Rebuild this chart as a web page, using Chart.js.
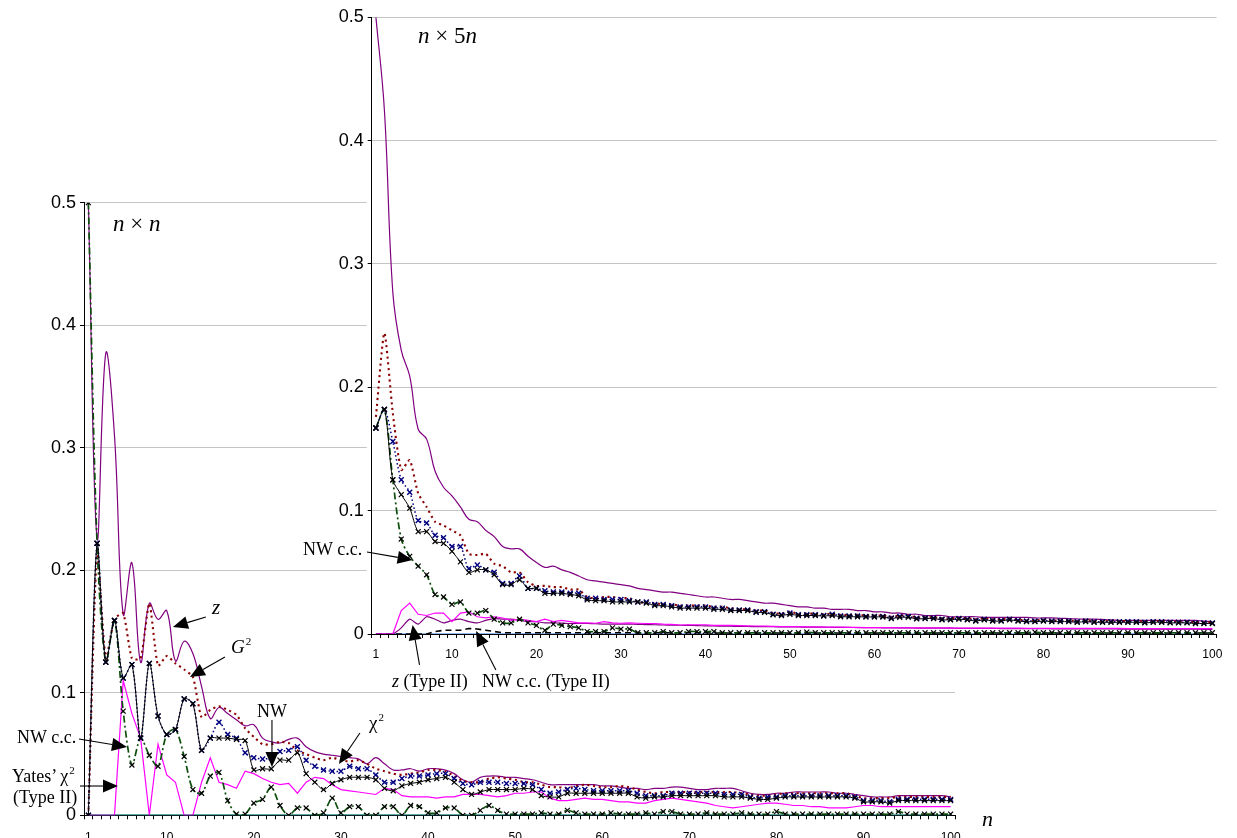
<!DOCTYPE html>
<html><head><meta charset="utf-8">
<script src="https://cdn.jsdelivr.net/npm/chart.js@4.4.1/dist/chart.umd.min.js"></script>
<style>
html,body{margin:0;padding:0;background:#fff;}
body{width:1237px;height:838px;overflow:hidden;position:relative;}
canvas{position:absolute;top:0;}
.t{position:absolute;font-family:"Liberation Serif","Times New Roman",serif;font-size:18px;line-height:1;white-space:nowrap;color:#000;}
.s{font-size:11px;position:relative;top:-8px;margin-left:1px;}
</style></head><body>
<canvas id="cl" width="1237" height="860" style="left:0"></canvas>
<canvas id="cr" width="922" height="700" style="left:300px"></canvas>

<div class="t" style="left:113px;top:212px;font-size:23px"><i>n</i> × <i>n</i></div>
<div class="t" style="left:418px;top:24px;font-size:23px"><i>n</i> × 5<i>n</i></div>
<div class="t" style="left:212px;top:597px;font-size:21px"><i>z</i></div>
<div class="t" style="left:231px;top:637px;font-size:19px"><i>G</i><span class="s">2</span></div>
<div class="t" style="left:257px;top:702px">NW</div>
<div class="t" style="left:369px;top:713px;font-size:19px">χ<span class="s">2</span></div>
<div class="t" style="left:17px;top:728px">NW c.c.</div>
<div class="t" style="left:12px;top:767px">Yates’ χ<span class="s">2</span></div>
<div class="t" style="left:13px;top:788px">(Type II)</div>
<div class="t" style="left:303px;top:540px">NW c.c.</div>
<div class="t" style="left:392px;top:672px"><i>z</i> (Type II)</div>
<div class="t" style="left:482px;top:672px">NW c.c. (Type II)</div>
<div class="t" style="left:982px;top:808px;font-size:22px"><i>n</i></div>

<script>
// ---------- categories / ticks ----------
const categories = Array.from({length:100}, (_, i) => String(i + 1));
const shownXLabels = ['1','10','20','30','40','50','60','70','80','90','100'];
const yMin = 0, yMax = 0.5, yStep = 0.1;

// ---------- left panel (n x n) ----------
const zL = [0.500,0.226,0.377,0.310,0.164,0.206,0.125,0.173,0.160,0.167,
0.126,0.142,0.132,0.105,0.079,0.088,0.083,0.078,0.073,0.074,
0.063,0.060,0.059,0.062,0.063,0.056,0.052,0.050,0.049,0.048,
0.047,0.046,0.042,0.047,0.042,0.037,0.037,0.038,0.036,0.038,
0.038,0.037,0.034,0.029,0.027,0.031,0.032,0.032,0.031,0.031,
0.030,0.029,0.027,0.025,0.025,0.025,0.025,0.025,0.025,0.024,
0.024,0.023,0.022,0.022,0.021,0.022,0.022,0.023,0.023,0.022,
0.021,0.021,0.022,0.022,0.022,0.020,0.018,0.017,0.017,0.018,
0.018,0.019,0.019,0.019,0.019,0.019,0.018,0.018,0.017,0.016,
0.015,0.015,0.015,0.016,0.016,0.016,0.016,0.016,0.016,0.015];

const g2L = [0,0.215,0.128,0.160,0.165,0.128,0.128,0.173,0.122,0.130,
0.124,0.119,0.113,0.080,0.086,0.089,0.086,0.082,0.071,0.064,
0.058,0.058,0.060,0.059,0.053,0.050,0.047,0.045,0.047,0.045,
0.044,0.045,0.042,0.038,0.036,0.034,0.033,0.034,0.035,0.037,
0.037,0.036,0.032,0.028,0.027,0.027,0.030,0.031,0.030,0.029,
0.027,0.027,0.025,0.023,0.023,0.022,0.024,0.025,0.024,0.023,
0.023,0.024,0.023,0.021,0.019,0.018,0.019,0.019,0.019,0.019,
0.019,0.019,0.019,0.019,0.019,0.018,0.017,0.016,0.016,0.017,
0.018,0.018,0.018,0.018,0.018,0.018,0.018,0.018,0.016,0.014,
0.014,0.014,0.014,0.015,0.015,0.015,0.015,0.015,0.015,0.015];

const chiL = [0,0.222,0.125,0.159,0.112,0.123,0.063,0.124,0.081,0.066,
0.070,0.095,0.091,0.053,0.063,0.076,0.066,0.063,0.051,0.047,
0.046,0.047,0.052,0.053,0.056,0.045,0.040,0.037,0.036,0.036,
0.040,0.038,0.038,0.033,0.027,0.027,0.030,0.032,0.032,0.033,
0.034,0.034,0.030,0.026,0.025,0.027,0.027,0.027,0.026,0.026,
0.026,0.025,0.021,0.018,0.019,0.021,0.022,0.021,0.020,0.020,
0.020,0.020,0.020,0.018,0.016,0.016,0.016,0.018,0.018,0.018,
0.018,0.018,0.018,0.017,0.017,0.017,0.015,0.014,0.015,0.015,
0.016,0.016,0.016,0.016,0.016,0.016,0.016,0.016,0.015,0.012,
0.012,0.012,0.011,0.013,0.013,0.013,0.013,0.013,0.013,0.013];

const nwL = [0,0.222,0.125,0.159,0.112,0.123,0.063,0.124,0.081,0.066,
0.070,0.095,0.091,0.053,0.063,0.063,0.063,0.062,0.061,0.037,
0.038,0.038,0.045,0.045,0.051,0.034,0.027,0.021,0.026,0.029,
0.031,0.031,0.031,0.029,0.022,0.020,0.024,0.026,0.027,0.029,
0.030,0.031,0.027,0.021,0.017,0.019,0.021,0.021,0.021,0.021,
0.022,0.021,0.016,0.015,0.015,0.018,0.018,0.018,0.018,0.018,
0.018,0.018,0.018,0.015,0.014,0.015,0.015,0.016,0.016,0.016,
0.016,0.016,0.016,0.015,0.015,0.015,0.014,0.013,0.013,0.014,
0.015,0.015,0.015,0.015,0.015,0.015,0.015,0.015,0.014,0.011,
0.011,0.011,0.010,0.012,0.012,0.012,0.012,0.012,0.012,0.012];

const nwccL = [0.500,0.222,0.125,0.159,0.085,0.041,0.063,0.049,0.040,0.066,
0.070,0.048,0.021,0.018,0.032,0.035,0.012,0.001,0.001,0.010,
0.013,0.023,0.008,0.000,0.006,0.006,0.000,0.002,0.014,0.002,
0.007,0.007,0.000,0.000,0.007,0.007,0.000,0.008,0.007,0.002,
0.002,0.006,0.006,0.000,0.000,0.004,0.008,0.004,0.001,0.001,
0.001,0.001,0.002,0.001,0.001,0.004,0.002,0.001,0.001,0.001,
0.002,0.001,0.001,0.001,0.002,0.001,0.003,0.003,0.001,0.001,
0.001,0.002,0.001,0.001,0.001,0.002,0.001,0.001,0.001,0.003,
0.001,0.001,0.001,0.001,0.001,0.001,0.001,0.001,0.001,0.001,
0.001,0.001,0.001,0.003,0.001,0.001,0.001,0.001,0.001,0.001];

const yatesL = [0,0,0,0,0.110,0.083,0.063,0,0.058,0.033,
0.027,0,0,0.027,0.047,0.027,0.025,0.022,0.036,0.034,
0.030,0.027,0.025,0.026,0.018,0.027,0.031,0.030,0.025,0.021,
0.020,0.019,0.018,0.017,0.022,0.021,0.016,0.015,0.015,0.015,
0.014,0.015,0.015,0.017,0.017,0.017,0.016,0.015,0.016,0.018,
0.018,0.019,0.019,0.014,0.012,0.012,0.013,0.014,0.013,0.013,
0.012,0.011,0.011,0.010,0.010,0.012,0.013,0.014,0.013,0.012,
0.011,0.010,0.008,0.007,0.006,0.007,0.008,0.009,0.010,0.010,
0.009,0.008,0.008,0.007,0.007,0.006,0.006,0.006,0.007,0.008,
0.008,0.007,0.007,0.007,0.007,0.007,0.007,0.007,0.007,0.007];

const yatesIIL = [0,0,0,0,0,0,0,0,0,0, 0,0,0,0,0,0,0,0,0,0, 0,0,0,0,0,0,0,0,0,0, 0,0,0,0,0,0,0,0,0,0, 0,0,0,0,0,0,0,0,0,0,
0,0,0,0,0,0,0,0,0,0, 0,0,0,0,0,0,0,0,0,0, 0,0,0,0,0,0,0,0,0,0, 0,0,0,0,0,0,0,0,0,0, 0,0,0,0,0,0,0,0,0,0];

// ---------- right panel (n x 5n) ----------
const zR = [0.500,0.425,0.277,0.230,0.209,0.166,0.158,0.132,0.119,0.112,
0.103,0.093,0.091,0.084,0.079,0.071,0.069,0.069,0.063,0.058,
0.054,0.055,0.052,0.050,0.047,0.044,0.043,0.042,0.041,0.040,
0.039,0.037,0.036,0.035,0.034,0.034,0.033,0.032,0.031,0.030,
0.030,0.029,0.028,0.028,0.027,0.026,0.025,0.025,0.024,0.023,
0.022,0.022,0.021,0.021,0.020,0.020,0.020,0.019,0.019,0.018,
0.018,0.017,0.017,0.016,0.016,0.015,0.015,0.015,0.014,0.014,
0.014,0.014,0.0135,0.0135,0.0135,0.0135,0.0135,0.0135,0.013,0.013,
0.013,0.0127,0.0125,0.0122,0.012,0.012,0.0118,0.0115,0.011,0.011,
0.011,0.011,0.011,0.011,0.011,0.011,0.011,0.011,0.0105,0.010];

const g2R = [0.176,0.244,0.179,0.133,0.141,0.114,0.103,0.091,0.088,0.084,
0.080,0.065,0.064,0.065,0.057,0.055,0.050,0.050,0.042,0.039,
0.039,0.038,0.038,0.036,0.036,0.030,0.029,0.030,0.030,0.029,
0.029,0.026,0.025,0.025,0.024,0.024,0.023,0.023,0.023,0.023,
0.022,0.022,0.021,0.020,0.020,0.019,0.019,0.017,0.0165,0.018,
0.0165,0.0165,0.0165,0.016,0.0165,0.0155,0.0155,0.0155,0.015,0.015,
0.015,0.014,0.015,0.015,0.0135,0.0135,0.0135,0.0127,0.0127,0.013,
0.0127,0.012,0.0127,0.012,0.012,0.0125,0.0118,0.011,0.011,0.0115,
0.011,0.011,0.011,0.0105,0.011,0.0105,0.0105,0.0105,0.0105,0.0105,
0.0105,0.010,0.0105,0.0105,0.010,0.010,0.010,0.0095,0.0095,0.0095];

const chiR = [0.167,0.182,0.156,0.125,0.115,0.092,0.090,0.080,0.078,0.071,
0.071,0.053,0.056,0.052,0.050,0.041,0.041,0.047,0.037,0.037,
0.035,0.034,0.034,0.033,0.033,0.029,0.029,0.028,0.028,0.028,
0.027,0.026,0.026,0.024,0.024,0.023,0.022,0.022,0.022,0.022,
0.021,0.021,0.0195,0.0195,0.0195,0.018,0.018,0.016,0.0157,0.017,
0.0157,0.0157,0.0157,0.015,0.016,0.0147,0.0147,0.0147,0.0143,0.0143,
0.0143,0.013,0.0143,0.0143,0.0127,0.013,0.013,0.012,0.012,0.0125,
0.012,0.011,0.012,0.011,0.011,0.012,0.011,0.0105,0.0105,0.011,
0.0105,0.0105,0.0105,0.010,0.0105,0.010,0.010,0.010,0.010,0.010,
0.010,0.0095,0.010,0.010,0.0095,0.0095,0.0095,0.009,0.009,0.009];

const nwR = [0.167,0.182,0.125,0.113,0.102,0.083,0.083,0.075,0.0735,0.067,
0.0585,0.050,0.052,0.052,0.048,0.040,0.040,0.044,0.037,0.037,
0.033,0.033,0.033,0.032,0.031,0.0276,0.027,0.027,0.026,0.026,
0.026,0.026,0.025,0.023,0.023,0.022,0.021,0.021,0.021,0.021,
0.020,0.020,0.019,0.019,0.019,0.0175,0.0175,0.0155,0.015,0.016,
0.015,0.015,0.015,0.0145,0.015,0.014,0.014,0.014,0.0138,0.0138,
0.0138,0.0125,0.0135,0.0135,0.0122,0.0125,0.0125,0.0115,0.0115,0.012,
0.0115,0.0105,0.0115,0.0105,0.0105,0.0115,0.0105,0.010,0.010,0.0105,
0.010,0.010,0.010,0.0095,0.010,0.0095,0.0095,0.0095,0.0095,0.0095,
0.0095,0.009,0.0095,0.0095,0.009,0.009,0.009,0.0085,0.0085,0.0085];

const nwccR = [0.167,0.182,0.125,0.077,0.063,0.055,0.048,0.032,0.030,0.024,
0.026,0.017,0.017,0.019,0.012,0.009,0.009,0.012,0.009,0.007,
0.003,0.008,0.007,0.006,0.005,0.002,0.002,0.002,0.005,0.004,
0.004,0.001,0.001,0.001,0.002,0.001,0.001,0.002,0.002,0.002,
0.002,0.001,0.001,0.001,0.001,0.001,0.001,0.001,0.001,0.001,
0.001,0.0015,0.001,0.001,0.001,0.001,0.001,0.001,0.001,0.001,
0.001,0.001,0.001,0.001,0.001,0.001,0.001,0.001,0.001,0.001,
0.001,0.001,0.001,0.001,0.001,0.001,0.001,0.001,0.0015,0.001,
0.001,0.001,0.001,0.001,0.001,0.001,0.001,0.001,0.001,0.001,
0.001,0.001,0.001,0.001,0.001,0.001,0.001,0.001,0.001,0.001];

const yatesR = [0,0,0,0.019,0.025,0.016,0.015,0.017,0.017,0.010,
0.017,0.018,0.014,0.013,0.014,0.013,0.011,0.012,0.011,0.010,
0.012,0.010,0.011,0.010,0.009,0.009,0.0087,0.010,0.009,0.0087,
0.009,0.0087,0.0085,0.0085,0.008,0.0078,0.0073,0.0075,0.0075,0.0075,
0.007,0.007,0.007,0.0068,0.0066,0.0065,0.0064,0.0062,0.006,0.006,
0.006,0.0058,0.0057,0.0056,0.0055,0.0055,0.0054,0.0053,0.0052,0.0052,
0.0052,0.0051,0.005,0.005,0.005,0.005,0.0049,0.0049,0.0049,0.0048,
0.0048,0.0048,0.0048,0.0047,0.0047,0.0047,0.0047,0.0046,0.0046,0.0046,
0.0046,0.0046,0.0045,0.0045,0.0045,0.0045,0.0045,0.0045,0.0045,0.0044,
0.0044,0.0044,0.0044,0.0044,0.0044,0.0044,0.0043,0.0043,0.0043,0.0043];

const zIIR = [0,0,0,0.005,0.012,0.008,0.014,0.012,0.009,0.011,
0.012,0.010,0.009,0.011,0.0125,0.012,0.012,0.011,0.010,0.010,
0.009,0.009,0.0088,0.0085,0.0085,0.0085,0.0083,0.008,0.008,0.008,
0.008,0.0078,0.0076,0.0075,0.0073,0.0072,0.0071,0.007,0.0068,0.0066,
0.0065,0.0064,0.0063,0.0062,0.0061,0.006,0.006,0.0059,0.0058,0.0058,
0.0057,0.0056,0.0055,0.0055,0.0054,0.0053,0.0053,0.0052,0.0051,0.0051,
0.005,0.005,0.0049,0.0049,0.0048,0.0048,0.0047,0.0047,0.0047,0.0046,
0.0046,0.0045,0.0045,0.0045,0.0044,0.0044,0.0044,0.0043,0.0043,0.0043,
0.0042,0.0042,0.0042,0.0042,0.0041,0.0041,0.0041,0.0041,0.004,0.004,
0.004,0.004,0.004,0.0039,0.0039,0.0039,0.0039,0.0039,0.0038,0.0038];

const nwccIIR = [0,0,0,0,0,0,0,0.002,0.003,0.003,
0.003,0.0045,0.004,0.003,0.002,0.001,0.001,0.001,0.001,0.001,
0.001,0.001,0.001,0.001,0.001,0.001,0.001,0.001,0.001,0.001,
0.001,0.001,0.001,0.001,0.001,0.001,0.001,0.001,0.001,0.001,
0.0008,0.0008,0.0008,0.0008,0.0008,0.0008,0.0008,0.0008,0.0008,0.0008,
0.0008,0.0008,0.0008,0.0008,0.0008,0.0008,0.0008,0.0008,0.0008,0.0008,
0.0008,0.0008,0.0008,0.0008,0.0008,0.0008,0.0008,0.0008,0.0008,0.0008,
0.0008,0.0008,0.0008,0.0008,0.0008,0.0008,0.0008,0.0008,0.0008,0.0008,
0.0008,0.0008,0.0008,0.0008,0.0008,0.0008,0.0008,0.0008,0.0008,0.0008,
0.0008,0.0008,0.0008,0.0008,0.0008,0.0008,0.0008,0.0008,0.0008,0.0008];

const yatesIIR = [0,0,0,0,0,0,0,0,0,0, 0,0,0,0,0,0,0,0,0,0, 0,0,0,0,0,0,0,0,0,0, 0,0,0,0,0,0,0,0,0,0, 0,0,0,0,0,0,0,0,0,0,
0,0,0,0,0,0,0,0,0,0, 0,0,0,0,0,0,0,0,0,0, 0,0,0,0,0,0,0,0,0,0, 0,0,0,0,0,0,0,0,0,0, 0,0,0,0,0,0,0,0,0,0];

// ---------- arrow annotations (category index, value) ----------
const arrowsLeft = [
  {from:[13.49,0.1619], to:[9.71,0.1537]},
  {from:[15.68,0.1292], to:[11.66,0.1129]},
  {from:[21.08,0.0778], to:[21.08,0.0394]},
  {from:[31.18,0.0672], to:[28.77,0.0419]},
  {from:[-1.08,0.0623], to:[4.43,0.0558]},
  {from:[-0.96,0.0239], to:[3.40,0.0239]}
];
const arrowsRight = [
  {from:[-1.06,0.0665], to:[4.34,0.0600]},
  {from:[5.16,-0.0251], to:[4.34,0.0073]},
  {from:[14.2,-0.0292], to:[11.85,0.0024]}
];

// ---------- styling ----------
Chart.defaults.font.family = '"Liberation Sans", Arial, sans-serif';
Chart.defaults.color = '#000';

const ST = {
  nw:   {borderColor:'#000000', borderWidth:1, tension:0.3, pointStyle:'crossRot', pointRadius:3.5, pointBorderColor:'#000', pointBorderWidth:1.2},
  chi:  {borderColor:'#000080', borderWidth:1.5, borderDash:[1.5,2.5], tension:0.3, pointStyle:'crossRot', pointRadius:3.5, pointBorderColor:'#000080', pointBorderWidth:1.4},
  nwcc: {borderColor:'#0b4d0b', borderWidth:1.7, borderDash:[7,3,2,3], tension:0.3, pointStyle:'crossRot', pointRadius:3.5, pointBorderColor:'#000', pointBorderWidth:1.2},
  g2:   {borderColor:'#8b0000', borderWidth:2.1, borderDash:[2.1,3.6], tension:0.2, pointRadius:0},
  z:    {borderColor:'#800080', borderWidth:1.2, tension:0.4, pointRadius:0},
  yates:{borderColor:'#ff00ff', borderWidth:1.2, tension:0, pointRadius:0},
  zII:  {borderColor:'#800080', borderWidth:1.2, tension:0.2, pointRadius:0},
  nwccII:{borderColor:'#000000', borderWidth:1.6, borderDash:[6,4], tension:0, pointRadius:0},
  zeroL:{borderColor:'#2a8a8a', borderWidth:2, tension:0, pointRadius:0},
  zeroR:{borderColor:'#8fb6f0', borderWidth:2.2, tension:0, pointRadius:0}
};
function ds(label, data, style){ return Object.assign({label, data, fill:false}, style); }

const arrowPlugin = {
  id:'arrows',
  afterDraw(chart, args, opts){
    const {ctx} = chart, x = chart.scales.x, y = chart.scales.y;
    ctx.save();
    ctx.strokeStyle = '#000'; ctx.fillStyle = '#000'; ctx.lineWidth = 1.1; ctx.setLineDash([]);
    for (const a of (opts.list || [])){
      const x1 = x.getPixelForValue(a.from[0]), y1 = y.getPixelForValue(a.from[1]);
      const x2 = x.getPixelForValue(a.to[0]), y2 = y.getPixelForValue(a.to[1]);
      const ang = Math.atan2(y2 - y1, x2 - x1), L = 15, W = 6.5;
      const bx = x2 - L*Math.cos(ang), by = y2 - L*Math.sin(ang);
      ctx.beginPath(); ctx.moveTo(x1, y1); ctx.lineTo(bx, by); ctx.stroke();
      ctx.beginPath(); ctx.moveTo(x2, y2);
      ctx.lineTo(bx + W*Math.sin(ang), by - W*Math.cos(ang));
      ctx.lineTo(bx - W*Math.sin(ang), by + W*Math.cos(ang));
      ctx.closePath(); ctx.fill();
    }
    ctx.restore();
  }
};
const whiteArea = {
  id:'whiteArea',
  beforeDraw(chart, args, opts){
    if (!opts.on) return;
    const {ctx, chartArea:a} = chart;
    ctx.save(); ctx.fillStyle = '#fff';
    ctx.fillRect(a.left - 5, a.top - 1, a.right - a.left + 20, a.bottom - a.top + 1);
    ctx.restore();
  }
};

function makeScales(yWidth, xHeight, xPad){
  return {
    x: {
      type:'category', offset:true,
      grid:{display:true, drawOnChartArea:false, drawTicks:true, tickLength:4, offset:true, color:'#000', tickColor:'#000', lineWidth:1},
      border:{display:true, color:'#000', width:1},
      ticks:{autoSkip:false, maxRotation:0, minRotation:0, padding:xPad, font:{size:12}, color:'#000',
        callback(v, i){ const c = categories[i]; return shownXLabels.includes(c) ? c : ''; }},
      afterFit(s){ s.height = xHeight; s.paddingLeft = 0; s.paddingRight = 0; }
    },
    y: {
      min:yMin, max:yMax,
      ticks:{stepSize:yStep, font:{size:18}, color:'#000', padding:4},
      grid:{color:'#c4c4c4', tickLength:4, tickColor:'#000', lineWidth:1},
      border:{display:true, color:'#000', width:1},
      afterFit(s){ s.width = yWidth; s.paddingTop = 0; s.paddingBottom = 0; }
    }
  };
}

function baseOptions(pad, yWidth, xHeight, xPad, arrows, white){
  return {
    responsive:false, animation:false, devicePixelRatio:1,
    layout:{padding:pad},
    plugins:{legend:{display:false}, tooltip:{enabled:false}, arrows:{list:arrows}, whiteArea:{on:white}},
    scales: makeScales(yWidth, xHeight, xPad)
  };
}

// Left chart: plot area x 84..955, y 202.7..815.3 on a 1237x860 canvas
new Chart(document.getElementById('cl'), {
  type:'line',
  data:{labels:categories, datasets:[
    ds('NW', nwL, ST.nw),
    ds('χ²', chiL, ST.chi),
    ds('NW c.c.', nwccL, ST.nwcc),
    ds('G²', g2L, ST.g2),
    ds('z', zL, ST.z),
    ds('Yates’ χ² (Type II)', yatesL, ST.yates),
    ds('zero', yatesIIL, ST.zeroL)
  ]},
  options: baseOptions({left:0, top:202.7, right:282, bottom:0}, 84, 860 - 815.3, 11, arrowsLeft, false),
  plugins:[arrowPlugin, whiteArea]
});

// Right chart: canvas at page x 300 (clipped at 1222); plot area page x 371.7..1221, y 17.3..634
new Chart(document.getElementById('cr'), {
  type:'line',
  data:{labels:categories, datasets:[
    ds('NW', nwR, ST.nw),
    ds('χ²', chiR, ST.chi),
    ds('NW c.c.', nwccR, ST.nwcc),
    ds('G²', g2R, ST.g2),
    ds('z', zR, ST.z),
    ds('Yates’ χ²', yatesR, ST.yates),
    ds('z (Type II)', zIIR, ST.zII),
    ds('NW c.c. (Type II)', nwccIIR, ST.nwccII),
    ds('zero', yatesIIR, ST.zeroR)
  ]},
  options: baseOptions({left:0, top:17.3, right:1, bottom:0}, 71.7, 700 - 634, 9, arrowsRight, true),
  plugins:[arrowPlugin, whiteArea]
});
</script>
</body></html>
